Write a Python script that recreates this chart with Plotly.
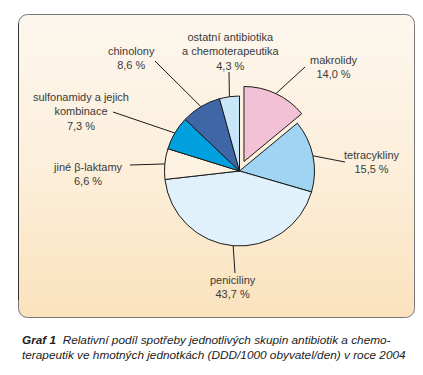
import math
import base64
import plotly.graph_objects as go

# ---- data ----
categories = ["makrolidy", "tetracykliny", "peniciliny", "jiné β-laktamy",
              "sulfonamidy a jejich kombinace", "chinolony",
              "ostatní antibiotika a chemoterapeutika"]
shares = [14.0, 15.5, 43.7, 6.6, 7.3, 8.6, 4.3]
label_texts = ["makrolidy", "tetracykliny", "peniciliny", "jiné β-laktamy",
               "sulfonamidy a jejich<br>kombinace", "chinolony",
               "ostatní antibiotika<br>a chemoterapeutika"]
pulls = [0.14, 0, 0, 0, 0, 0, 0]

# ---- styles / layout ----
W, H = 423, 375
colors = ["#f2c1d6", "#9fd4f2", "#e0f1fb", "#fdf1e0", "#00a0de", "#3f67a8", "#c8e6f8"]
CX, CY, R = 239.5, 171.0, 75.0          # pie centre / radius in pixels
maxpull = max(pulls)
half = R * (1 + maxpull)
# label centres (px) and leader-line outer ends (px)
label_pos = [(334, 67.5), (372, 162), (233, 287), (88, 173.5), (81, 111.5), (131, 58), (230, 51)]
line_end = [(305, 67), (345, 162), (235, 273), (130, 165), (113, 112), (155, 61), (229, 72)]


def px(x):
    return x / W


def py(y):
    return 1 - y / H


fig = go.Figure(go.Pie(
    labels=categories, values=shares, sort=False, direction="clockwise", rotation=0,
    pull=pulls, textinfo="none", hoverinfo="label+percent",
    marker=dict(colors=colors, line=dict(color="#1a1a1a", width=1)),
    domain=dict(x=[px(CX - half), px(CX + half)], y=[py(CY + half), py(CY - half)]),
))

# background panel as svg gradient image
svg = f'''<svg xmlns="http://www.w3.org/2000/svg" width="{W}" height="{H}" viewBox="0 0 {W} {H}">
<defs><linearGradient id="g" x1="0" y1="0" x2="0" y2="1">
<stop offset="0" stop-color="#fdf7ee"/><stop offset="0.5" stop-color="#fcefdb"/>
<stop offset="1" stop-color="#fbe2bd"/></linearGradient></defs>
<rect x="18.5" y="14.5" width="396" height="303" rx="9" ry="9" fill="url(#g)" stroke="#777" stroke-width="1"/>
<path d="M18.5 300 L18.5 23.5" stroke="#333" stroke-width="1" fill="none"/>
</svg>'''
src = "data:image/svg+xml;base64," + base64.b64encode(svg.encode()).decode()

shapes = []
annotations = []
total = sum(shares)
cum = 0.0
for i, v in enumerate(shares):
    mid = (cum + v / 2) / total * 2 * math.pi
    cum += v
    dx, dy = math.sin(mid), -math.cos(mid)
    off = pulls[i] * R
    tx = CX + dx * (R + off)
    ty = CY + dy * (R + off)
    ex, ey = line_end[i]
    shapes.append(dict(type="line", xref="paper", yref="paper",
                       x0=px(tx), y0=py(ty), x1=px(ex), y1=py(ey),
                       line=dict(color="#1a1a1a", width=1)))
    lx, ly = label_pos[i]
    pct = f"{v:.1f}".replace(".", ",") + " %"
    annotations.append(dict(x=px(lx), y=py(ly), xref="paper", yref="paper",
                            text=f"{label_texts[i]}<br>{pct}", showarrow=False,
                            xanchor="center", yanchor="middle", align="center",
                            font=dict(family="Liberation Sans, Arial, sans-serif",
                                      size=11, color="#3a3a3a")))

caption = ("<b><i>Graf 1</i></b>\u00a0\u00a0<i>Relativní podíl spotřeby jednotlivých skupin "
           "antibiotik a chemo-</i><br><i>terapeutik ve hmotných jednotkách "
           "(DDD/1000 obyvatel/den) v roce 2004</i>")
annotations.append(dict(x=px(20), y=py(347.5), xref="paper", yref="paper", text=caption,
                        showarrow=False, xanchor="left", yanchor="middle", align="left",
                        font=dict(family="Liberation Sans, Arial, sans-serif",
                                  size=11.8, color="#222")))

fig.update_layout(
    width=W, height=H, margin=dict(l=0, r=0, t=0, b=0),
    paper_bgcolor="white", showlegend=False,
    shapes=shapes, annotations=annotations,
    images=[dict(source=src, xref="paper", yref="paper", x=0, y=1, sizex=1, sizey=1,
                 xanchor="left", yanchor="top", sizing="stretch", layer="below")],
)

fig.write_html("out.html", config={"displayModeBar": False},
               post_script="document.body.style.margin='0px';document.body.style.overflow='hidden';")
